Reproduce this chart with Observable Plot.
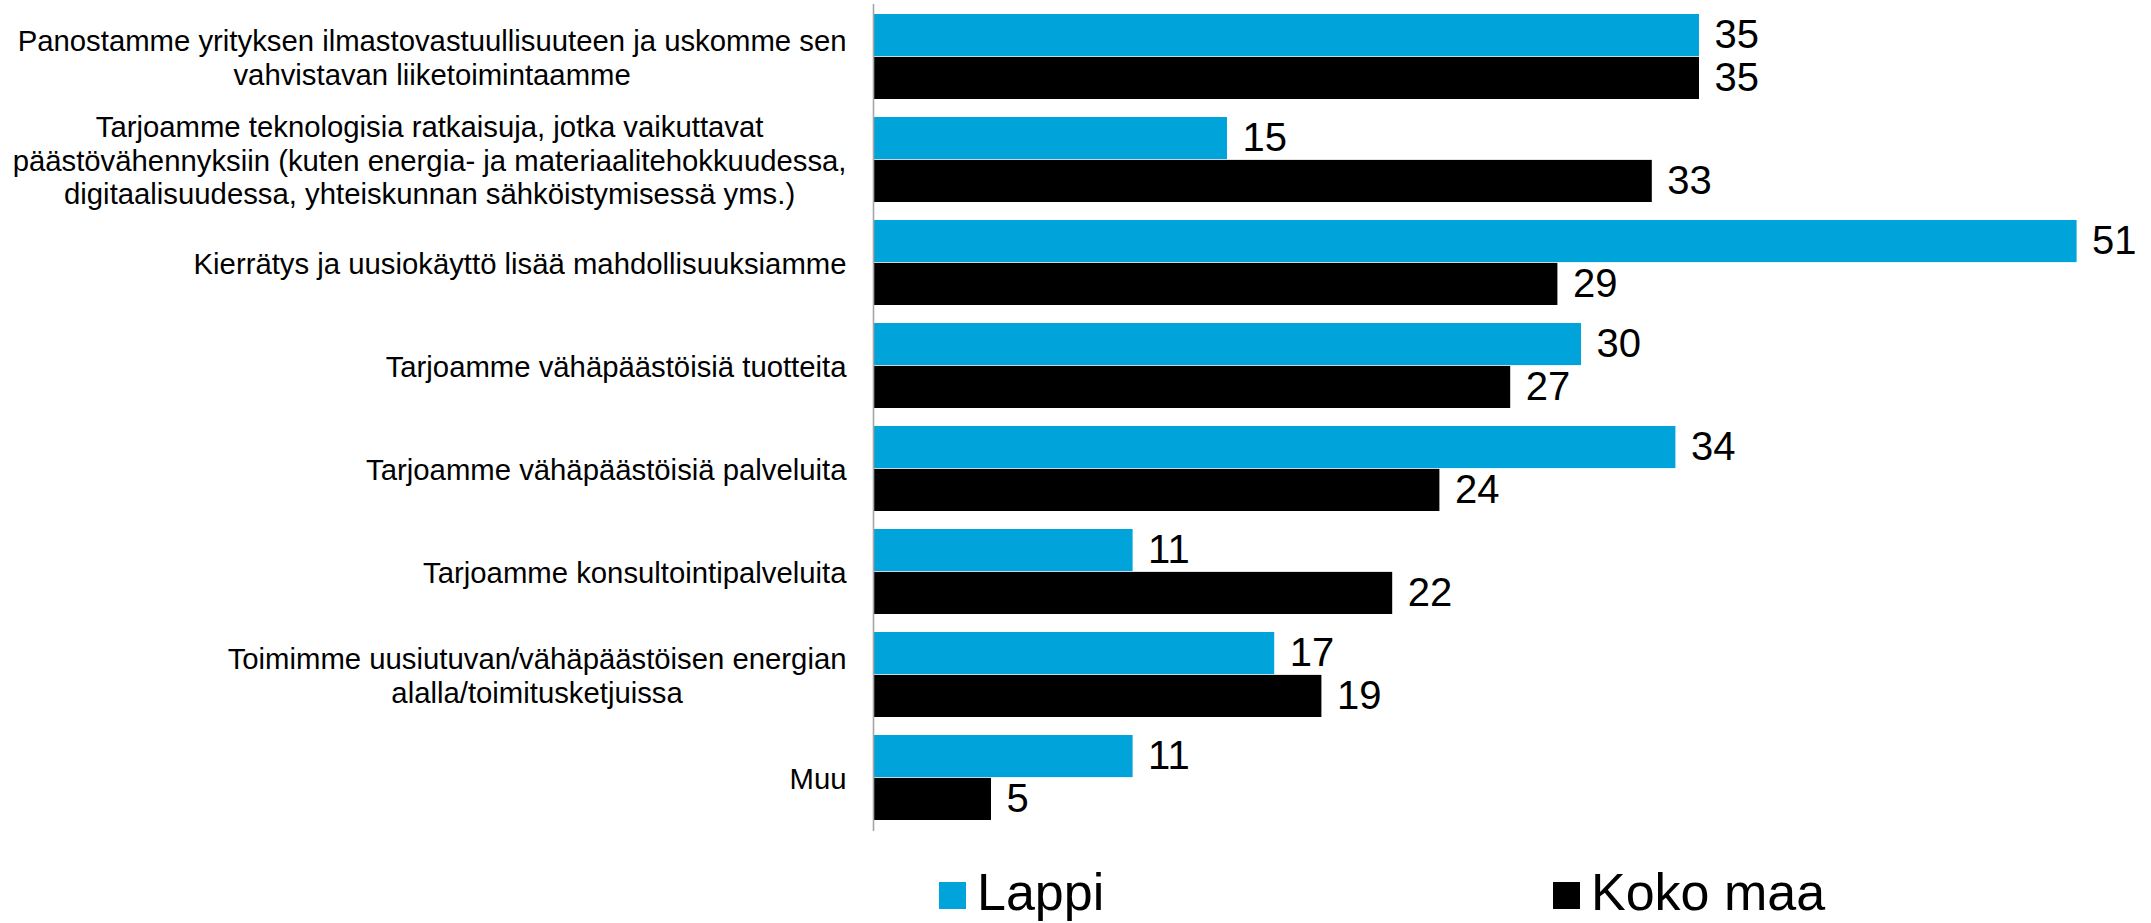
<!DOCTYPE html>
<html>
<head>
<meta charset="utf-8">
<script src="https://cdn.jsdelivr.net/npm/d3@7"></script>
<script src="https://cdn.jsdelivr.net/npm/@observablehq/plot@0.6"></script>
<style>
  html, body { margin: 0; padding: 0; background: #fff; }
  body { width: 2151px; height: 923px; overflow: hidden; font-family: "Liberation Sans", Arial, sans-serif; }
  #legend { position: relative; width: 2151px; height: 78px; }
  .sw { position: absolute; width: 27px; height: 27px; }
  .lt { position: absolute; font-size: 52px; line-height: 1; color: #000; white-space: nowrap; }
</style>
</head>
<body>
<div id="chart"></div>
<div id="legend"></div>
<script>
const categories = [
  "Panostamme yrityksen ilmastovastuullisuuteen ja uskomme sen\nvahvistavan liiketoimintaamme",
  "Tarjoamme teknologisia ratkaisuja, jotka vaikuttavat\npäästövähennyksiin (kuten energia- ja materiaalitehokkuudessa,\ndigitaalisuudessa, yhteiskunnan sähköistymisessä yms.)",
  "Kierrätys ja uusiokäyttö lisää mahdollisuuksiamme",
  "Tarjoamme vähäpäästöisiä tuotteita",
  "Tarjoamme vähäpäästöisiä palveluita",
  "Tarjoamme konsultointipalveluita",
  "Toimimme uusiutuvan/vähäpäästöisen energian\nalalla/toimitusketjuissa",
  "Muu"
];
const seriesNames = ["Lappi", "Koko maa"];
const lappi = [35, 15, 51, 30, 34, 11, 17, 11];
const kokoMaa = [35, 33, 29, 27, 24, 22, 19, 5];
const colors = ["#00A3DA", "#000000"];

const FONT = '"Liberation Sans", Arial, sans-serif';
const W = 2151, H = 845;
const mTop = 4, mBottom = 14, mLeft = 873;
const pInner = 0.171, pOuter = 0.082;
const labelSize = 29.3, valueSize = 40;

const lappiRows = categories.map((c, i) => ({cat: c, value: lappi[i]}));
const kokoRows = categories.map((c, i) => ({cat: c, value: kokoMaa[i]}));

// band geometry (same as Plot's band scale) to split each band in two bars
const step = (H - mTop - mBottom) / (categories.length - pInner + 2 * pOuter);
const bw = step * (1 - pInner);

// measure label block widths so multi-line labels are centered within a right-aligned block
const ctx = document.createElement("canvas").getContext("2d");
ctx.font = `${labelSize}px ${FONT}`;
const blockW = categories.map(c => d3.max(c.split("\n"), l => ctx.measureText(l).width));
const labelGap = 27;

const labelMarks = categories.map((c, i) =>
  Plot.text([c], {
    y: d => d, text: d => d, frameAnchor: "left",
    textAnchor: "middle", lineAnchor: "middle",
    dx: -labelGap - blockW[i] / 2,
    fontSize: labelSize, lineHeight: 1.15, fill: "#000"
  })
);

const chart = Plot.plot({
  width: W, height: H,
  marginTop: mTop, marginBottom: mBottom, marginLeft: mLeft, marginRight: 0,
  style: {fontFamily: FONT, background: "#fff", overflow: "visible"},
  x: {domain: [0, 50], range: [mLeft, mLeft + 50 * 23.6], axis: null},
  y: {type: "band", domain: categories, paddingInner: pInner, paddingOuter: pOuter, axis: null},
  marks: [
    Plot.barX(lappiRows, {x: "value", y: "cat", fill: colors[0], insetBottom: bw / 2}),
    Plot.barX(kokoRows, {x: "value", y: "cat", fill: colors[1], insetTop: bw / 2}),
    Plot.ruleX([0], {stroke: "#a6a6a6", strokeWidth: 1.6}),
    Plot.text(lappiRows, {x: "value", y: "cat", text: d => String(d.value), dx: 15, dy: -bw / 4,
      textAnchor: "start", lineAnchor: "middle", fontSize: valueSize, fill: "#000"}),
    Plot.text(kokoRows, {x: "value", y: "cat", text: d => String(d.value), dx: 15, dy: bw / 4,
      textAnchor: "start", lineAnchor: "middle", fontSize: valueSize, fill: "#000"}),
    ...labelMarks
  ]
});
document.getElementById("chart").appendChild(chart);

// legend below the SVG
const legend = document.getElementById("legend");
const legendLeft = [939, 1553];
seriesNames.forEach((name, i) => {
  const sw = document.createElement("div");
  sw.className = "sw";
  sw.style.left = legendLeft[i] + "px";
  sw.style.top = "37px";
  sw.style.background = colors[i];
  legend.appendChild(sw);
  const t = document.createElement("div");
  t.className = "lt";
  t.style.left = (legendLeft[i] + 38) + "px";
  t.style.top = "21px";
  t.textContent = name;
  legend.appendChild(t);
});
</script>
</body>
</html>
